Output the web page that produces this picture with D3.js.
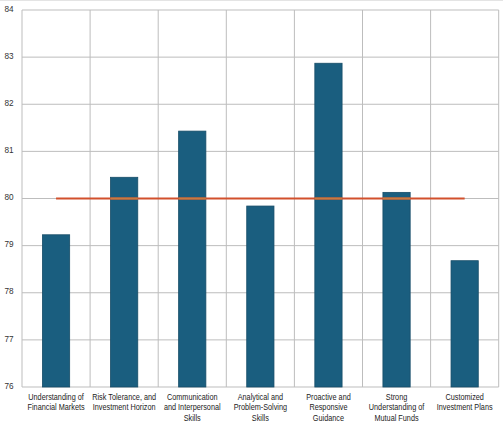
<!DOCTYPE html>
<html><head><meta charset="utf-8">
<script src="https://cdn.jsdelivr.net/npm/d3@7"></script>
<style>html,body{margin:0;padding:0;background:#fff;}svg{display:block;}</style>
</head><body>
<script>
const categories = [
  ["Understanding of", "Financial Markets"],
  ["Risk Tolerance, and", "Investment Horizon"],
  ["Communication", "and Interpersonal", "Skills"],
  ["Analytical and", "Problem-Solving", "Skills"],
  ["Proactive and", "Responsive", "Guidance"],
  ["Strong", "Understanding of", "Mutual Funds"],
  ["Customized", "Investment Plans"]
];
const values = [79.23, 80.45, 81.43, 79.84, 82.87, 80.13, 78.68];
const target = [80, 80, 80, 80, 80, 80, 80];
const yTicks = [76, 77, 78, 79, 80, 81, 82, 83, 84];

const W = 503, H = 428;
const m = {left: 22, right: 4.3, top: 10, bottom: 41};
const svg = d3.select("body").append("svg").attr("width", W).attr("height", H);

svg.append("line").attr("x1",0).attr("x2",W).attr("y1",0.5).attr("y2",0.5).attr("stroke","#e4e4e4");

const x = d3.scaleBand().domain(d3.range(categories.length)).range([m.left, W - m.right]).paddingInner(0).paddingOuter(0);
const y = d3.scaleLinear().domain([76, 84]).range([H - m.bottom, m.top]);

const g = svg.append("g");
g.selectAll("line.h").data(yTicks).join("line")
  .attr("x1", m.left).attr("x2", W - m.right)
  .attr("y1", d => y(d)).attr("y2", d => y(d))
  .attr("stroke", "#bdbdbd").attr("stroke-width", 1);
const bounds = d3.range(categories.length + 1).map(i => i < categories.length ? x(i) : x(i-1) + x.bandwidth());
g.selectAll("line.v").data(bounds).join("line")
  .attr("x1", d => d).attr("x2", d => d)
  .attr("y1", m.top).attr("y2", H - m.bottom)
  .attr("stroke", "#bdbdbd").attr("stroke-width", 1);

svg.selectAll("text.yt").data(yTicks).join("text")
  .attr("x", 4.5).attr("y", d => y(d) - 0.5)
  .attr("dominant-baseline", "middle")
  .attr("font-family", "Liberation Sans, Arial, sans-serif").attr("font-size", 8.2)
  .attr("fill", "#333").text(d => d);

const bw = x.bandwidth() * 0.4;
svg.append("g").selectAll("rect").data(values).join("rect")
  .attr("x", (d, i) => x(i) + x.bandwidth() / 2 - bw / 2)
  .attr("width", bw)
  .attr("y", d => y(d))
  .attr("height", d => y(76) - y(d))
  .attr("fill", "#1a5e7f").attr("stroke", "#174d68").attr("stroke-width", 0.8);

const clip = svg.append("defs").append("clipPath").attr("id", "barclip");
clip.selectAll("rect").data(values).join("rect")
  .attr("x", (d, i) => x(i) + x.bandwidth() / 2 - bw / 2)
  .attr("width", bw)
  .attr("y", d => y(d))
  .attr("height", d => y(76) - y(d));

const line = d3.line().x((d, i) => x(i) + x.bandwidth() / 2).y(d => y(d));
svg.append("path").datum(target).attr("d", line)
  .attr("fill", "none").attr("stroke", "#d2502c").attr("stroke-width", 2.2);
svg.append("path").datum(target).attr("d", line).attr("clip-path", "url(#barclip)")
  .attr("fill", "none").attr("stroke", "#c9793f").attr("stroke-width", 2.2);

const lab = svg.append("g").selectAll("text").data(categories).join("text")
  .attr("font-family", "Liberation Sans, Arial, sans-serif").attr("font-size", 8.2)
  .attr("fill", "#222").attr("text-anchor", "middle")
  .attr("transform", (d, i) => `translate(${x(i) + x.bandwidth() / 2},${H - m.bottom + 13}) scale(0.89,1)`);
lab.selectAll("tspan").data(d => d).join("tspan")
  .attr("x", 0).attr("dy", (d, j) => j === 0 ? 0 : 10.5).text(d => d);
</script>
</body></html>
